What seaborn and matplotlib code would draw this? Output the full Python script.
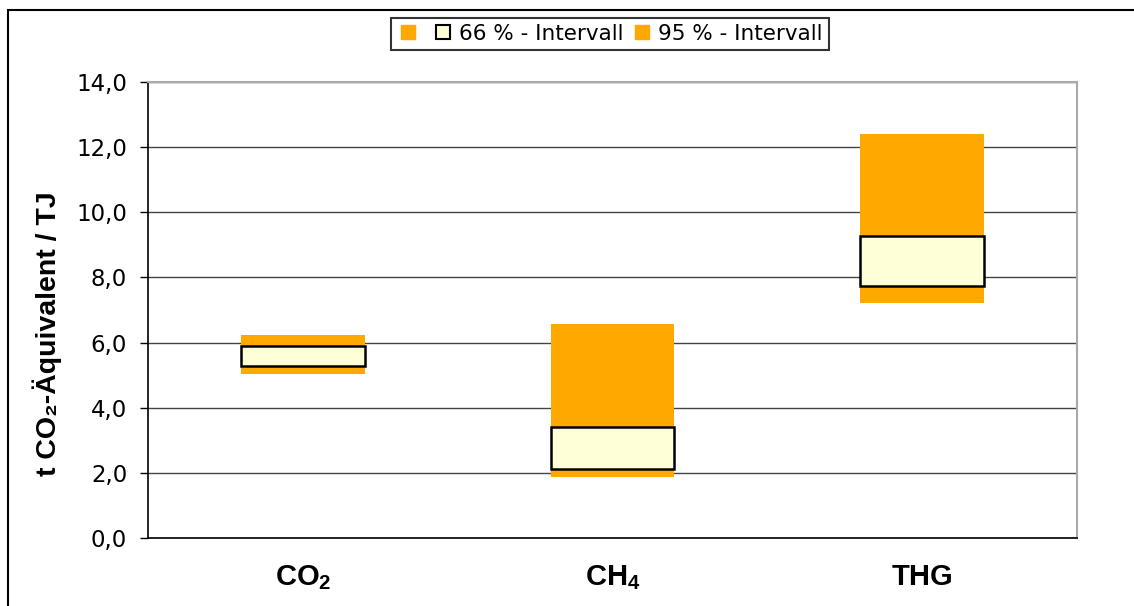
import matplotlib
matplotlib.use("Agg")
import matplotlib.pyplot as plt
import matplotlib.patches as mpatches
from matplotlib.lines import Line2D
from matplotlib.ticker import FuncFormatter, FixedLocator
import seaborn as sns
import numpy as np

# data
gases = ["CO2", "CH4", "THG"]
gas_labels = ["CO$_2$", "CH$_4$", "THG"]
lo95 = [5.03, 1.86, 7.22]
hi95 = [6.23, 6.57, 12.40]
lo66 = [5.28, 2.13, 7.75]
hi66 = [5.90, 3.42, 9.27]

orange = "#FFA800"
cream = "#FFFFD7"

sns.set_theme(style="white")
plt.rcParams["font.family"] = ["DejaVu Sans"]
plt.rcParams["mathtext.default"] = "regular"
for k in ["text.color", "axes.labelcolor", "xtick.color", "ytick.color"]:
    plt.rcParams[k] = "black"

fig = plt.figure(figsize=(11.34, 6.06), dpi=100)
ax = fig.add_axes([148 / 1134, 68 / 606, 929 / 1134, 456 / 606])

# 95 % interval (full range), then 66 % interval on top
sns.barplot(x=gases, y=np.array(hi95) - np.array(lo95), bottom=lo95,
            color=orange, width=0.4, saturation=1, ax=ax, linewidth=0, zorder=3)
sns.barplot(x=gases, y=np.array(hi66) - np.array(lo66), bottom=lo66,
            color=cream, width=0.4, saturation=1, ax=ax, edgecolor="black",
            linewidth=1.8, zorder=4)

ax.set_ylim(0, 14)
ax.set_xlim(-0.5, 2.5)
ax.yaxis.set_major_locator(FixedLocator(np.arange(0, 14.1, 2)))
ax.yaxis.set_major_formatter(FuncFormatter(lambda v, p: f"{v:.1f}".replace(".", ",")))
ax.yaxis.grid(True, color="#444444", linewidth=1.0, zorder=0)
ax.set_axisbelow(True)

ax.set_xticks([0, 1, 2])
ax.set_xticklabels(gas_labels, fontsize=21, fontweight="bold", family="Liberation Sans")
ax.set_xticks([-0.5, 0.5, 1.5, 2.5], minor=True)
ax.tick_params(axis="x", which="major", length=0, pad=18)
ax.tick_params(axis="x", which="minor", length=6, width=1, color="black", direction="out")
ax.tick_params(axis="y", length=6, width=1, color="black", direction="out",
               labelsize=16.5, pad=9, left=True)

for s in ["left", "bottom"]:
    ax.spines[s].set_color("black")
    ax.spines[s].set_linewidth(1.2)
for s in ["right", "top"]:
    ax.spines[s].set_color("#aaaaaa")
    ax.spines[s].set_linewidth(1.5)

ax.set_xlabel("")
ax.set_ylabel("t CO\u2082-\u00c4quivalent / TJ", fontsize=20.5, fontweight="bold",
              family=["Liberation Sans", "DejaVu Sans"], va="center")
ax.yaxis.set_label_coords(-0.108, 0.447)

handles = [
    Line2D([], [], marker="s", linestyle="none", markersize=9.5,
           markerfacecolor=orange, markeredgecolor=orange),
    Line2D([], [], marker="s", linestyle="none", markersize=9.5,
           markerfacecolor=cream, markeredgecolor="black", markeredgewidth=1.5),
    Line2D([], [], marker="s", linestyle="none", markersize=9.5,
           markerfacecolor=orange, markeredgecolor=orange),
]
leg = fig.legend(handles, ["", "66 % - Intervall", "95 % - Intervall"],
                 loc="center", bbox_to_anchor=(610 / 1134, 1 - 34 / 606), ncol=3,
                 fontsize=15.5, frameon=True, fancybox=False, handlelength=1.0,
                 handletextpad=0.25, columnspacing=0.35, borderpad=0.3,
                 borderaxespad=0)
leg.get_frame().set_edgecolor("black")
leg.get_frame().set_linewidth(1.5)

# outer frame of the figure
frame = mpatches.Rectangle((8 / 1134, -0.1), 1.2, 1.1 - 10 / 606, transform=fig.transFigure,
                           fill=False, edgecolor="black", linewidth=1.5)
fig.patches.append(frame)

fig.savefig("out.png", dpi=100)
